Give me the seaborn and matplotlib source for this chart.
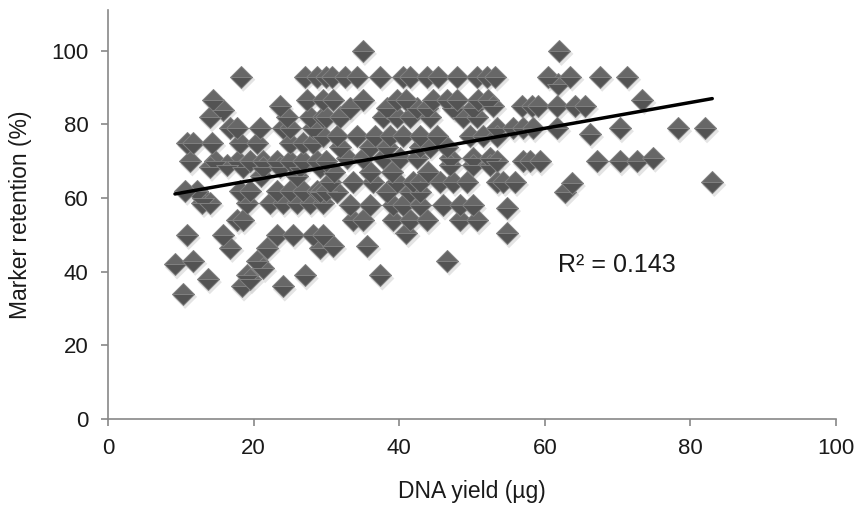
import matplotlib
matplotlib.use("Agg")
import matplotlib.pyplot as plt
import matplotlib.transforms as mtransforms
import numpy as np
import pandas as pd
import seaborn as sns

# ---- data ----
dna_yield = [
    9.2, 10.8, 10.3, 11.7, 13.7, 10.9, 11.7, 11.3, 12.2, 10.6, 13.0, 12.9, 14.0,
    14.4, 15.8, 14.0, 14.3, 14.7, 14.0,
    16.8, 17.7, 18.1, 17.9, 18.3, 16.3, 18.5, 18.1, 19.1, 17.7, 18.5, 15.8, 16.8, 18.4, 19.1, 19.5,
    19.5, 19.5, 20.5, 20.9, 21.3, 21.3, 20.5, 21.3, 21.8, 22.3, 23.2, 23.2, 23.2, 23.6, 24.6, 24.0, 23.6, 24.0, 24.0,
    25.0, 25.0, 25.0, 25.0, 25.4, 25.9, 26.4, 26.8, 26.8, 26.8, 27.0, 27.3, 27.0, 27.7, 27.7, 28.2, 28.2, 28.2,
    28.7, 28.7, 28.7, 29.1, 29.1, 29.5, 29.5, 29.5, 29.5, 29.5, 29.1,
    30.0, 30.0, 30.0, 30.0, 30.5, 30.8, 30.9, 30.9,
    31.5, 31.5, 31.9, 31.9, 32.6, 32.8, 33.2, 33.2, 33.7, 33.7, 34.2, 34.2,
    35.0, 35.0, 35.0, 35.0, 35.6, 36.0, 36.0, 36.4, 36.7, 37.4, 37.4, 37.8, 37.8, 38.3, 38.3, 38.3, 38.7,
    39.1, 39.1, 39.7, 39.7, 39.7,
    40.1, 40.5, 40.5, 40.5, 41.0, 41.0, 41.5, 41.5, 41.5, 41.5, 41.9, 42.4, 42.4, 42.9, 42.9, 42.9, 42.9, 42.9,
    43.8, 43.8, 43.8, 44.2, 44.2, 44.6, 45.2, 45.3, 45.6, 46.0, 46.6, 46.6, 46.6, 47.0, 47.0, 47.4, 47.4,
    48.0, 48.0, 48.4, 48.4, 48.8, 49.3, 49.7, 50.1, 50.1, 50.1, 50.1, 50.7, 50.7, 50.7, 50.8, 51.5, 52.0,
    52.2, 52.5, 52.5, 52.9, 53.2, 53.4, 53.4, 53.4, 53.4, 54.3, 54.8, 54.8, 55.6, 55.9, 56.9, 57.0, 57.0,
    58.0, 58.2, 58.4, 59.0, 59.3, 60.4, 61.7, 61.7, 61.8, 62.0, 62.8, 63.5, 63.7, 64.1, 65.5, 66.2, 67.2,
    67.6, 70.3, 70.3, 71.3, 72.7, 73.4, 74.9, 78.3, 82.0, 83.0,
    21.0, 26.0, 31.0, 36.0, 44.0, 39.0,
]
marker_retention = [
    42, 50, 34, 43, 38, 75, 75, 70, 62, 62, 60, 58.7, 58.7,
    86.7, 84, 82, 75, 70, 68.5,
    79, 79, 75, 70, 93, 69, 68.5, 62, 58.7, 54, 54, 50, 46.5, 36, 39, 38,
    62, 70, 75, 79, 70, 68.5, 43, 41, 46.5, 58.7, 62, 70, 50, 85, 82, 79, 68.5, 58.7, 36,
    79, 75, 70, 62, 50, 58.7, 68.5, 75, 70, 62, 39, 86.7, 93, 82, 58.7, 79, 75, 50,
    93, 70, 62, 68.5, 46.5, 86.7, 58.7, 50, 82, 77, 61.7,
    93, 82, 70, 62, 64.4, 93, 86.7, 47,
    77, 61.7, 82, 74, 93, 71, 84.5, 58, 64.4, 54, 93, 77,
    100, 86.7, 71, 54, 47, 74, 58, 64.4, 77, 93, 39, 82, 71, 84.5, 74, 61.7, 77,
    58, 54, 86.7, 82, 64.4,
    71, 93, 77, 58, 86.7, 50.5, 93, 82, 61.7, 54, 64.4, 84.5, 71, 77, 74, 64.4, 61.7, 58,
    93, 84.5, 54, 82, 74, 86.7, 77, 93, 64.4, 58, 86.7, 74, 43, 71, 69, 84.5, 64.4,
    93, 86.7, 58, 54, 82, 64.4, 77, 84.5, 71, 69, 58, 93, 82, 54, 86.7, 77, 93,
    86.7, 71, 69, 85, 93, 79, 77, 70, 64.4, 64.4, 57.3, 50.5, 79, 64.4, 85, 79, 70,
    70, 85, 79, 85, 70, 93, 85, 79, 91, 100, 61.7, 93, 64.1, 85, 85, 77.4, 70,
    93, 79, 70, 93, 70, 86.7, 71, 79, 79, 64.4,
    66, 66, 67, 67, 67, 67,
]

# Excel linear trend line and its R²
trend_slope = 0.351
trend_intercept = 57.9
r_squared_label = "R\u00b2 = 0.143"

x_ticks = [0, 20, 40, 60, 80, 100]
y_ticks = [0, 20, 40, 60, 80, 100]

df = pd.DataFrame({"DNA yield": dna_yield, "Marker retention": marker_retention})

sns.set_style("white")
plt.rcParams["font.family"] = ["Liberation Sans", "DejaVu Sans"]

fig = plt.figure(figsize=(8.6, 5.08), dpi=100)
ax = fig.add_axes([108 / 860, 89 / 508, 728 / 860, 409 / 508])

# soft shadow under the markers
shadow = mtransforms.offset_copy(ax.transData, fig=fig, x=1.5, y=-2.2, units="points")
sns.scatterplot(data=df, x="DNA yield", y="Marker retention", ax=ax, marker="D",
                s=150, color="#d2d2d2", edgecolor="none", alpha=0.6,
                transform=shadow, legend=False, zorder=1)
# two-tone (pyramid-like) diamond markers
sns.lineplot(data=df, x="DNA yield", y="Marker retention", ax=ax,
             estimator=None, sort=False, linestyle="", marker="D",
             markersize=11.2, fillstyle="top",
             markerfacecolor="#676767", markerfacecoloralt="#535353",
             markeredgecolor="#808080", markeredgewidth=0.7,
             legend=False, zorder=2)

xs = np.array([min(dna_yield), max(dna_yield)])
trend = pd.DataFrame({"x": xs, "y": trend_intercept + trend_slope * xs})
sns.lineplot(data=trend, x="x", y="y", ax=ax, color="black", linewidth=2.5, zorder=3)

ax.text(61.8, 41.8, r_squared_label, fontsize=18, ha="left", va="center", color="#1a1a1a")

ax.set_xlim(0, 100)
ax.set_ylim(0, 111.1)
ax.set_xticks(x_ticks)
ax.set_yticks(y_ticks)
ax.set_xlabel("DNA yield (\u00b5g)", fontsize=16.5, labelpad=15, color="#1a1a1a")
ax.set_ylabel("Marker retention (%)", fontsize=16.5, labelpad=14, color="#1a1a1a")

for side in ["top", "right"]:
    ax.spines[side].set_visible(False)
for side in ["left", "bottom"]:
    ax.spines[side].set_color("#888888")
    ax.spines[side].set_linewidth(1.2)
ax.tick_params(axis="both", which="major", direction="out", length=5, width=1.2,
               color="#888888", labelsize=16, labelcolor="#1a1a1a", pad=9,
               bottom=True, left=True)

fig.savefig("out.png", dpi=100)
